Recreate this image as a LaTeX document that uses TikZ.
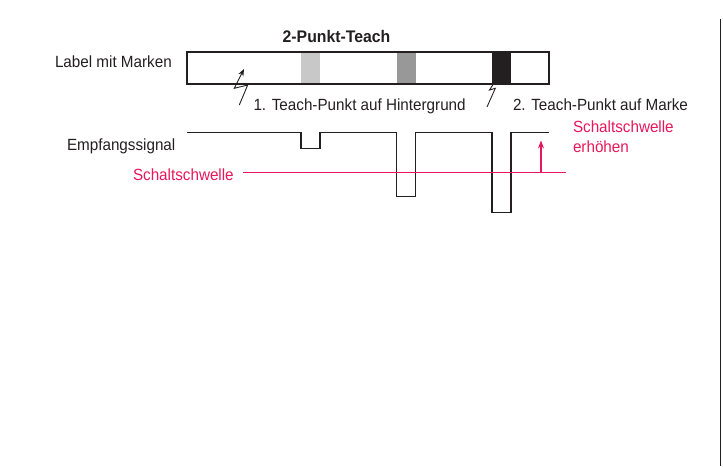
\documentclass[tikz,border=0pt]{standalone}
\usepackage{fontspec}
\setmainfont[FakeStretch=0.94]{Liberation Sans}
\usetikzlibrary{arrows.meta}
\definecolor{sred}{RGB}{232,22,90}
\definecolor{ink}{RGB}{35,31,32}
\definecolor{markA}{RGB}{200,200,200}
\definecolor{markB}{RGB}{152,152,152}
\begin{document}
\begin{tikzpicture}[x=1pt,y=-1pt,
  every node/.style={inner sep=0pt,outer sep=0pt},
  txt/.style={font=\fontsize{16.2}{18}\selectfont,text=ink},
  rtxt/.style={font=\fontsize{16.2}{20.6}\selectfont,text=sred},
  ttl/.style={font=\fontsize{16.8}{18}\selectfont\bfseries,text=ink},
  markbox/.style={minimum width=19pt,minimum height=32pt,anchor=north west},
  sig/.style={draw=ink,line width=1.2pt},
  bolt/.style={draw=ink,line width=0.9pt,-{Stealth[length=7pt,width=5.5pt]}},
  thr/.style={draw=sred,line width=1.1pt}]
\useasboundingbox (0,0) rectangle (723,466);

% title
\node[ttl,anchor=base] (title) at (336.5,42.7) {2-Punkt-Teach};

% label bar
\node[txt,anchor=base west] (lbl) at (55,67) {Label mit Marken};
\node[markbox,fill=markA] (m1) at (301,52) {};
\node[markbox,fill=markB] (m2) at (396.5,52) {};
\node[markbox,fill=ink] (m3) at (492,52) {};
\node[draw=ink,line width=1.2pt,minimum width=362pt,minimum height=32pt,anchor=north west] (bar) at (187,52) {};

% teach points
\node[txt,anchor=base west] (t1) at (253.5,110.5) {1. Teach-Punkt auf Hintergrund};
\node[txt,anchor=base west] (t2) at (513,110.5) {2. Teach-Punkt auf Marke};
\coordinate (b1a) at (239.3,105);
\coordinate (b1b) at (247.7,85);
\coordinate (b1c) at (234.3,88.3);
\coordinate (b1d) at (244,69);
\draw[bolt] (b1a) -- (b1b) -- (b1c) -- (b1d);
\coordinate (b2a) at (487,107);
\coordinate (b2b) at (495.3,88.3);
\coordinate (b2c) at (489.5,90);
\coordinate (b2d) at (501.7,71);
\draw[bolt] (b2a) -- (b2b) -- (b2c) -- (b2d);

% received signal
\node[txt,anchor=base west] (emp) at (67,150.5) {Empfangssignal};
\coordinate (s0) at (187,132.7);
\coordinate (s1) at (549,132.7);
\draw[sig] (s0) -- (301,132.7) -- (301,148.5) -- (320,148.5) -- (320,132.7)
  -- (396.7,132.7) -- (396.7,196.7) -- (415.7,196.7) -- (415.7,132.7)
  -- (492,132.7) -- (492,212.3) -- (511,212.3) -- (511,132.7) -- (s1);

% threshold
\node[rtxt,anchor=base west] (sw) at (133,180.7) {Schaltschwelle};
\coordinate (thrEnd) at (566,172.3);
\coordinate (thrStart) at (243,172.3);
\draw[thr] (thrStart) -- (thrEnd);
\node[rtxt,anchor=base west,align=left] (swr) at (573,152.7) {Schaltschwelle\\erhöhen};
\coordinate (upA) at (541,172.3);
\coordinate (upB) at (541,140.5);
\draw[draw=sred,line width=1.1pt,-{Stealth[length=8pt,width=6pt]}] (upA) -- (upB);

% right frame line
\coordinate (fr1) at (720.5,19);
\coordinate (fr2) at (720.5,466);
\draw[ink,line width=1.3pt] (fr1) -- (fr2);
\end{tikzpicture}
\end{document}
